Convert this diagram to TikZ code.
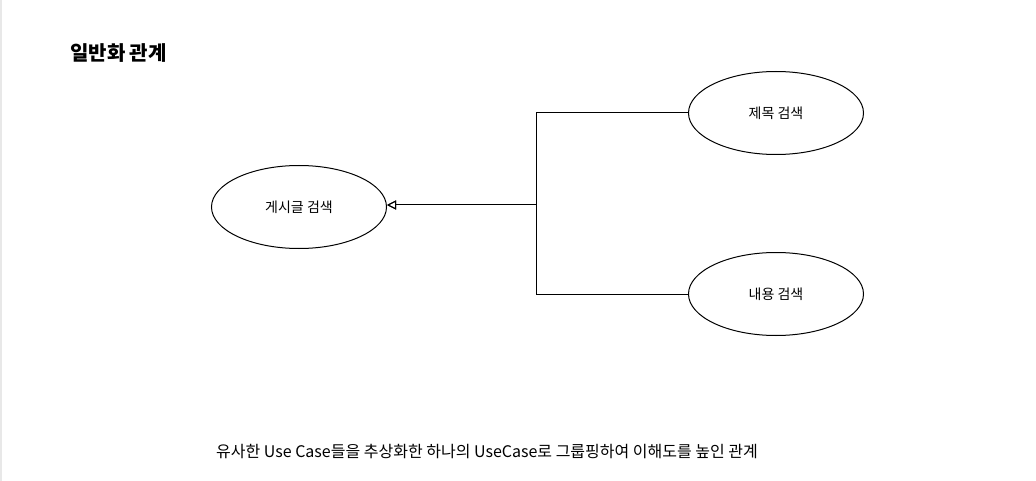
\documentclass[tikz,border=0pt]{standalone}
\usepackage{fontspec}
\usepackage{tikz}
\usetikzlibrary{arrows.meta,shapes.geometric}
\setmainfont{Noto Sans CJK KR}
\definecolor{edgegray}{RGB}{232,232,232}

\begin{document}
\begin{tikzpicture}[
  x=1pt, y=-1pt,
  usecase/.style={ellipse, draw=black, line width=1pt, minimum width=175pt,
    minimum height=83pt, inner sep=0pt, font=\fontsize{14}{17}\selectfont},
  gen/.style={-{Triangle[open, length=9pt, width=9pt]}, line width=1pt},
]
  \useasboundingbox (0,0) rectangle (1036,481);
  \draw[edgegray, line width=1.5pt] (1,0) -- (1,481);

  % Title
  \node[anchor=west, inner sep=0pt, font=\fontsize{20}{24}\selectfont\bfseries] (title)
    at (70,53) {일반화 관계};

  % Use cases
  \node[usecase] (post) at (299,207) {게시글 검색};
  \node[usecase] (subj) at (776,113) {제목 검색};
  \node[usecase] (body) at (776,294) {내용 검색};

  % Generalization
  \coordinate (joint) at (536,205);
  \draw[gen] (subj.west) -| (joint) -- (post.east |- joint);
  \draw[gen] (body.west) -| (joint) -- (post.east |- joint);

  % Note
  \node[font=\fontsize{16}{19}\selectfont] (note) at (487,452)
    {유사한 Use Case들을 추상화한 하나의 UseCase로 그룹핑하여 이해도를 높인 관계};
\end{tikzpicture}
\end{document}
